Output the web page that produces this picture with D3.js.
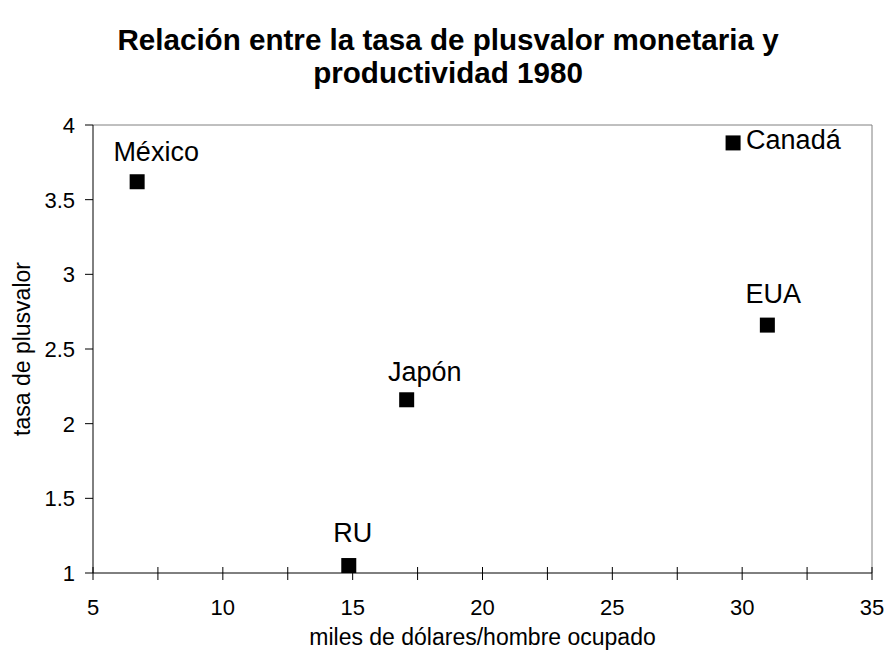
<!DOCTYPE html>
<html>
<head>
<meta charset="utf-8">
<script src="https://cdn.jsdelivr.net/npm/d3@7"></script>
<style>
  body { margin: 0; background: #fff; }
  svg { display: block; font-family: "Liberation Sans", Arial, sans-serif; }
</style>
</head>
<body>
<div id="vis"></div>
<script>
// data
var countries = ['México', 'Canadá', 'EUA', 'Japón', 'RU'];
var productividad = [6.7, 29.65, 30.97, 17.08, 14.85];
var plusvalor = [3.62, 3.88, 2.66, 2.16, 1.05];

var xTicks = [5, 10, 15, 20, 25, 30, 35];
var xMinor = [7.5, 12.5, 17.5, 22.5, 27.5, 32.5];
var yTicks = [1, 1.5, 2, 2.5, 3, 3.5, 4];

var titleLines = ['Relación entre la tasa de plusvalor monetaria y', 'productividad 1980'];
var xTitle = 'miles de dólares/hombre ocupado';
var yTitle = 'tasa de plusvalor';

// label placement (Excel put them above, except Canadá)
var labelPlace = {
  'México': { dx: 19, dy: -21, anchor: 'middle' },
  'Canadá': { dx: 13, dy: 6, anchor: 'start' },
  'EUA': { dx: 6, dy: -22, anchor: 'middle' },
  'Japón': { dx: 18, dy: -19, anchor: 'middle' },
  'RU': { dx: 4, dy: -24, anchor: 'middle' }
};

var width = 887, height = 660;
var margin = { top: 125, right: 15, bottom: 87, left: 93 };

var svg = d3.select('#vis').append('svg')
  .attr('width', width)
  .attr('height', height);

var x = d3.scaleLinear().domain([5, 35]).range([margin.left, width - margin.right]);
var y = d3.scaleLinear().domain([1, 4]).range([height - margin.bottom, margin.top]);

// plot area frame (top and right)
svg.append('path')
  .attr('d', 'M' + x(5) + ',' + y(4) + 'H' + x(35) + 'V' + y(1))
  .attr('fill', 'none')
  .attr('stroke', '#808080')
  .attr('stroke-width', 1);

// title
svg.selectAll('.title')
  .data(titleLines)
  .enter().append('text')
  .attr('class', 'title')
  .attr('x', 448)
  .attr('y', function (d, i) { return 50 + i * 33; })
  .attr('text-anchor', 'middle')
  .style('font-weight', 'bold')
  .style('font-size', '29.6px')
  .text(function (d) { return d; });

// x axis
var xAxis = svg.append('g')
  .attr('transform', 'translate(0,' + y(1) + ')');
xAxis.append('line')
  .attr('x1', x(5)).attr('x2', x(35))
  .attr('stroke', '#000');
xAxis.selectAll('.tick')
  .data(xTicks.concat(xMinor))
  .enter().append('line')
  .attr('x1', function (d) { return x(d); })
  .attr('x2', function (d) { return x(d); })
  .attr('y1', -6).attr('y2', 7)
  .attr('stroke', '#000');
xAxis.selectAll('.lbl')
  .data(xTicks)
  .enter().append('text')
  .attr('x', function (d) { return x(d); })
  .attr('y', 42)
  .attr('text-anchor', 'middle')
  .style('font-size', '22px')
  .text(function (d) { return d; });

// y axis
var yAxis = svg.append('g')
  .attr('transform', 'translate(' + x(5) + ',0)');
yAxis.append('line')
  .attr('y1', y(1)).attr('y2', y(4))
  .attr('stroke', '#000');
yAxis.selectAll('.tick')
  .data(yTicks)
  .enter().append('line')
  .attr('x1', -8).attr('x2', 0)
  .attr('y1', function (d) { return y(d); })
  .attr('y2', function (d) { return y(d); })
  .attr('stroke', '#000');
yAxis.selectAll('.lbl')
  .data(yTicks)
  .enter().append('text')
  .attr('x', -18)
  .attr('y', function (d) { return y(d); })
  .attr('dy', '0.36em')
  .attr('text-anchor', 'end')
  .style('font-size', '22px')
  .text(function (d) { return d; });

// axis titles
svg.append('text')
  .attr('x', (x(5) + x(35)) / 2)
  .attr('y', 645)
  .attr('text-anchor', 'middle')
  .style('font-size', '23px')
  .text(xTitle);

svg.append('text')
  .attr('transform', 'translate(30,' + (y(1) + y(4)) / 2 + ') rotate(-90)')
  .attr('text-anchor', 'middle')
  .style('font-size', '23px')
  .text(yTitle);

// points
var points = countries.map(function (c, i) {
  return { name: c, px: productividad[i], tp: plusvalor[i] };
});

var size = 15;
svg.selectAll('.pt')
  .data(points)
  .enter().append('rect')
  .attr('class', 'pt')
  .attr('x', function (d) { return x(d.px) - size / 2; })
  .attr('y', function (d) { return y(d.tp) - size / 2; })
  .attr('width', size)
  .attr('height', size)
  .attr('fill', '#000');

svg.selectAll('.plabel')
  .data(points)
  .enter().append('text')
  .attr('class', 'plabel')
  .attr('x', function (d) { return x(d.px) + labelPlace[d.name].dx; })
  .attr('y', function (d) { return y(d.tp) + labelPlace[d.name].dy; })
  .attr('text-anchor', function (d) { return labelPlace[d.name].anchor; })
  .style('font-size', '27px')
  .text(function (d) { return d.name; });
</script>
</body>
</html>
